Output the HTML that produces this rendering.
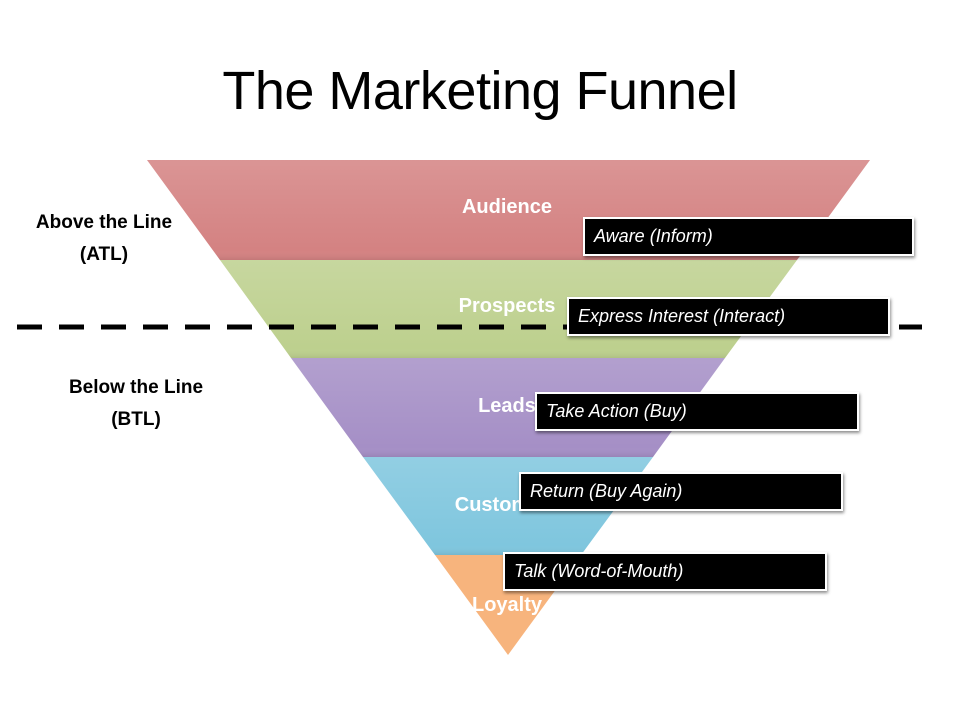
<!DOCTYPE html>
<html><head><meta charset="utf-8"><style>
body{margin:0;width:960px;height:720px;background:#fff;overflow:hidden;position:relative;font-family:"Liberation Sans",sans-serif}
.t{position:absolute;white-space:nowrap}
.box{position:absolute;background:#000;border:2px solid #fff;box-shadow:1px 2px 3px rgba(0,0,0,.45);color:#fff;font-style:italic;font-size:18px;line-height:35px;padding-left:9px;box-sizing:border-box;height:39px}
</style></head><body>
<div class="t" style="left:0;width:960px;text-align:center;top:60px;font-size:54px;color:#000;letter-spacing:-0.5px">The Marketing Funnel</div>
<svg width="960" height="720" style="position:absolute;left:0;top:0">
<defs>
<linearGradient id="g" x1="0" y1="0" x2="0" y2="1"><stop offset="0" stop-color="#fff" stop-opacity=".15"/><stop offset=".9" stop-color="#fff" stop-opacity="0"/><stop offset="1" stop-color="#000" stop-opacity=".08"/></linearGradient>
</defs>
<polygon points="147,160 870,160 797,260 220,260" fill="#d48282"/>
<polygon points="220,260 797,260 725,358 291,358" fill="#bdd08e"/>
<polygon points="291,358 725,358 653,457 363,457" fill="#a58fc6"/>
<polygon points="363,457 653,457 581,555 435,555" fill="#7fc6de"/>
<polygon points="435,555 581,555 508,655" fill="#f7b47d"/>
<g fill="url(#g)">
<polygon points="147,160 870,160 797,260 220,260"/>
<polygon points="220,260 797,260 725,358 291,358"/>
<polygon points="291,358 725,358 653,457 363,457"/>
<polygon points="363,457 653,457 581,555 435,555"/>
</g>
<line x1="17" y1="327" x2="922" y2="327" stroke="#000" stroke-width="5" stroke-dasharray="25 17"/>
</svg>
<div class="t" style="left:407px;width:200px;text-align:center;top:196px;font-size:20px;font-weight:bold;color:#fff">Audience</div>
<div class="t" style="left:407px;width:200px;text-align:center;top:295px;font-size:20px;font-weight:bold;color:#fff">Prospects</div>
<div class="t" style="left:407px;width:200px;text-align:center;top:395px;font-size:20px;font-weight:bold;color:#fff">Leads</div>
<div class="t" style="left:407px;width:200px;text-align:center;top:494px;font-size:20px;font-weight:bold;color:#fff">Customers</div>
<div class="t" style="left:407px;width:200px;text-align:center;top:594px;font-size:20px;font-weight:bold;color:#fff">Loyalty</div>
<div class="t" style="left:4px;width:200px;text-align:center;top:207px;font-size:19px;font-weight:bold;line-height:32px">Above the Line<br>(ATL)</div>
<div class="t" style="left:36px;width:200px;text-align:center;top:372px;font-size:19px;font-weight:bold;line-height:32px">Below the Line<br>(BTL)</div>
<div class="box" style="left:583px;top:217px;width:331px">Aware (Inform)</div>
<div class="box" style="left:567px;top:297px;width:323px">Express Interest (Interact)</div>
<div class="box" style="left:535px;top:392px;width:324px">Take Action (Buy)</div>
<div class="box" style="left:519px;top:472px;width:324px">Return (Buy Again)</div>
<div class="box" style="left:503px;top:552px;width:324px">Talk (Word-of-Mouth)</div>
</body></html>
